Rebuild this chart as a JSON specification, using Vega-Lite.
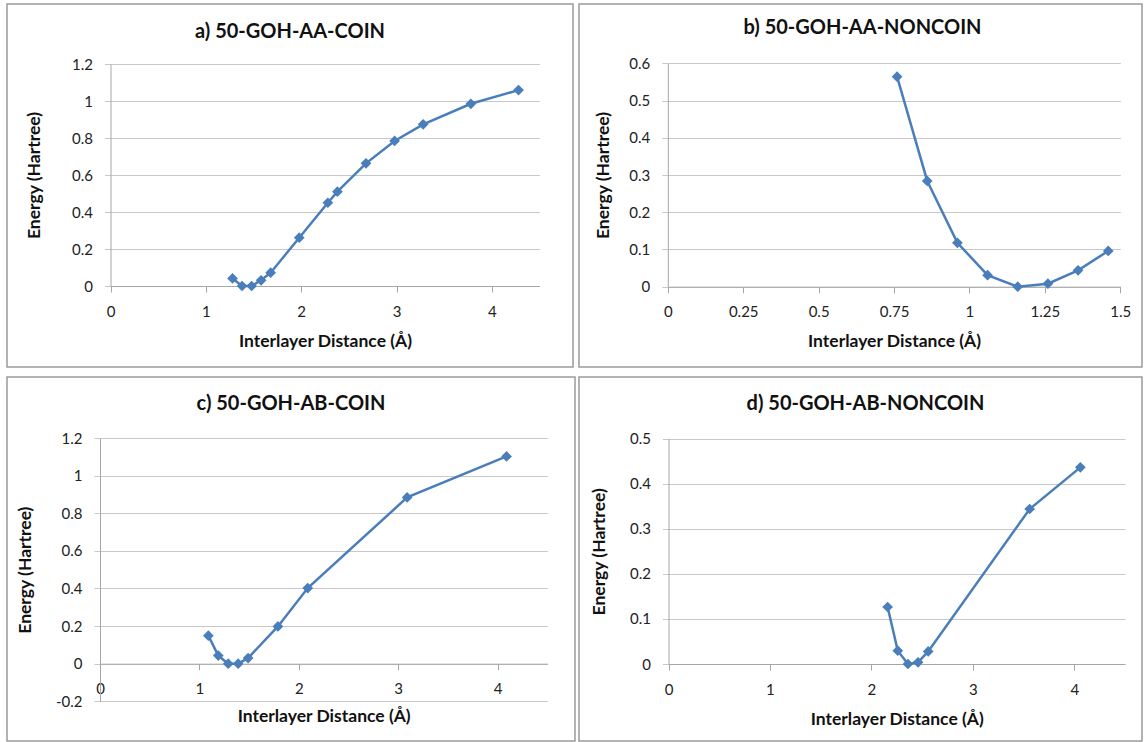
{
  "$schema": "https://vega.github.io/schema/vega-lite/v6.json",
  "padding": {"left": 6, "top": 3, "right": 0, "bottom": 0},
  "bounds": "flush",
  "columns": 2,
  "spacing": {"row": 10, "column": 4},
  "background": "white",
  "config": {
    "view": {"stroke": "#9a9a9a", "strokeWidth": 1.5},
    "font": "Lato",
    "title": {"font": "Lato", "fontSize": 20, "fontWeight": "bold", "color": "#111", "anchor": "middle", "frame": "group", "baseline": "middle"},
    "axis": {
      "labelFont": "Lato", "labelFontSize": 15, "labelColor": "#222",
      "titleFont": "Lato", "titleFontSize": 17.5, "titleFontWeight": "bold", "titleColor": "#111",
      "domainColor": "#a6a6a6", "tickColor": "#a6a6a6", "gridColor": "#c8c8c8",
      "tickSize": 6, "titleBaseline": "middle", "labelFlush": false, "labelOverlap": false
    },
    "axisX": {"grid": false, "labelPadding": 12},
    "axisY": {"grid": true, "labelPadding": 12, "tickColor": "#c8c8c8"}
  },
  "concat": [
    {
      "width": 566, "height": 363,
      "title": {"text": "a) 50-GOH-AA-COIN", "offset": -38},
      "data": {"values": [
        {"d": 1.28, "e": 0.041}, {"d": 1.38, "e": 0.0}, {"d": 1.48, "e": 0.0}, {"d": 1.58, "e": 0.031},
        {"d": 1.68, "e": 0.072}, {"d": 1.98, "e": 0.261}, {"d": 2.28, "e": 0.45}, {"d": 2.38, "e": 0.51},
        {"d": 2.68, "e": 0.663}, {"d": 2.98, "e": 0.784}, {"d": 3.28, "e": 0.874}, {"d": 3.78, "e": 0.985},
        {"d": 4.28, "e": 1.059}
      ]},
      "mark": {"type": "line", "color": "#4A7EBB", "strokeWidth": 2.5, "point": {"shape": "diamond", "size": 115, "filled": true, "color": "#4A7EBB", "opacity": 1}},
      "encoding": {
        "x": {"field": "d", "type": "quantitative", "title": "Interlayer Distance (Å)",
              "scale": {"domain": [0, 4.5], "range": [103.5, 532.5], "nice": false, "zero": false},
              "axis": {"values": [0, 1, 2, 3, 4], "offset": -81, "titleY": 55, "labelExpr": "'' + datum.value"}},
        "y": {"field": "e", "type": "quantitative", "title": "Energy (Hartree)",
              "scale": {"domain": [0, 1.2], "range": [282, 60], "nice": false, "zero": false},
              "axis": {"values": [0, 0.2, 0.4, 0.6, 0.8, 1, 1.2], "offset": -103.5, "titleX": -76.5, "labelExpr": "'' + datum.value"}}
      }
    },
    {
      "width": 563, "height": 363,
      "title": {"text": "b) 50-GOH-AA-NONCOIN", "offset": -34, "dx": 2},
      "data": {"values": [
        {"d": 0.76, "e": 0.564}, {"d": 0.86, "e": 0.284}, {"d": 0.96, "e": 0.118}, {"d": 1.06, "e": 0.031},
        {"d": 1.16, "e": 0.0}, {"d": 1.26, "e": 0.008}, {"d": 1.36, "e": 0.044}, {"d": 1.46, "e": 0.096}
      ]},
      "mark": {"type": "line", "color": "#4A7EBB", "strokeWidth": 2.5, "point": {"shape": "diamond", "size": 115, "filled": true, "color": "#4A7EBB", "opacity": 1}},
      "encoding": {
        "x": {"field": "d", "type": "quantitative", "title": "Interlayer Distance (Å)",
              "scale": {"domain": [0, 1.5], "range": [88.8, 541.3], "nice": false, "zero": false},
              "axis": {"values": [0, 0.25, 0.5, 0.75, 1, 1.25, 1.5], "offset": -80.3, "titleY": 54.3, "labelExpr": "'' + datum.value"}},
        "y": {"field": "e", "type": "quantitative", "title": "Energy (Hartree)",
              "scale": {"domain": [0, 0.6], "range": [282.7, 59.3], "nice": false, "zero": false},
              "axis": {"values": [0, 0.1, 0.2, 0.3, 0.4, 0.5, 0.6], "offset": -88.8, "titleX": -64.8, "labelExpr": "'' + datum.value"}}
      }
    },
    {
      "width": 568, "height": 364,
      "title": {"text": "c) 50-GOH-AB-COIN", "offset": -37},
      "data": {"values": [
        {"d": 1.09, "e": 0.149}, {"d": 1.19, "e": 0.043}, {"d": 1.29, "e": 0.0}, {"d": 1.39, "e": 0.0},
        {"d": 1.49, "e": 0.03}, {"d": 1.79, "e": 0.198}, {"d": 2.09, "e": 0.402}, {"d": 3.09, "e": 0.884},
        {"d": 4.09, "e": 1.102}
      ]},
      "mark": {"type": "line", "color": "#4A7EBB", "strokeWidth": 2.5, "point": {"shape": "diamond", "size": 115, "filled": true, "color": "#4A7EBB", "opacity": 1}},
      "encoding": {
        "x": {"field": "d", "type": "quantitative", "title": "Interlayer Distance (Å)",
              "scale": {"domain": [0, 4.5], "range": [93, 540.3], "nice": false, "zero": false},
              "axis": {"values": [0, 1, 2, 3, 4], "offset": -77.3, "titleY": 52.6, "labelExpr": "'' + datum.value"}},
        "y": {"field": "e", "type": "quantitative", "title": "Energy (Hartree)",
              "scale": {"domain": [-0.2, 1.2], "range": [324.3, 61], "nice": false, "zero": false},
              "axis": {"values": [-0.2, 0, 0.2, 0.4, 0.6, 0.8, 1, 1.2], "offset": -93, "titleX": -74.4, "labelExpr": "'' + datum.value"}}
      }
    },
    {
      "width": 563, "height": 364,
      "title": {"text": "d) 50-GOH-AB-NONCOIN", "offset": -37, "dx": 5},
      "data": {"values": [
        {"d": 2.16, "e": 0.1265}, {"d": 2.26, "e": 0.0296}, {"d": 2.36, "e": 0.0}, {"d": 2.46, "e": 0.0037},
        {"d": 2.56, "e": 0.028}, {"d": 3.56, "e": 0.344}, {"d": 4.06, "e": 0.4364}
      ]},
      "mark": {"type": "line", "color": "#4A7EBB", "strokeWidth": 2.5, "point": {"shape": "diamond", "size": 115, "filled": true, "color": "#4A7EBB", "opacity": 1}},
      "encoding": {
        "x": {"field": "d", "type": "quantitative", "title": "Interlayer Distance (Å)",
              "scale": {"domain": [0, 4.5], "range": [89.5, 546], "nice": false, "zero": false},
              "axis": {"values": [0, 1, 2, 3, 4], "offset": -77, "titleY": 55.7, "labelExpr": "'' + datum.value"}},
        "y": {"field": "e", "type": "quantitative", "title": "Energy (Hartree)",
              "scale": {"domain": [0, 0.5], "range": [287, 61.7], "nice": false, "zero": false},
              "axis": {"values": [0, 0.1, 0.2, 0.3, 0.4, 0.5], "offset": -89.5, "titleX": -68.9, "labelExpr": "'' + datum.value"}}
      }
    }
  ]
}
